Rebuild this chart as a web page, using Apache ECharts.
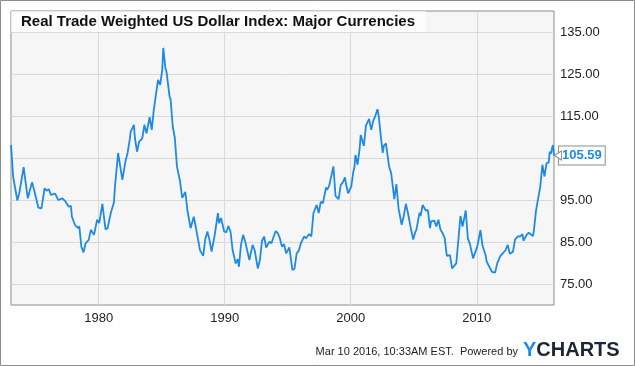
<!DOCTYPE html>
<html>
<head>
<meta charset="utf-8">
<script src="https://cdn.jsdelivr.net/npm/echarts@6/dist/echarts.min.js"></script>
<style>
html,body{margin:0;padding:0;background:#fff;}
#c{width:635px;height:366px;}
</style>
</head>
<body>
<div id="c"></div>
<script>
const titleText = 'Real Trade Weighted US Dollar Index: Major Currencies';
const footerText = 'Mar 10 2016, 10:33AM EST.  Powered by';
const xTickYears = [1980, 1990, 2000, 2010];
const yTickValues = [75, 85, 95, 105, 115, 125, 135];
const dates = [
'1973-01','1973-03','1973-04','1973-07','1973-09','1973-10','1974-01','1974-03','1974-05','1974-09','1974-11',
'1975-03','1975-06','1975-09','1975-11','1976-01','1976-03','1976-07','1976-10','1977-02','1977-05','1977-08',
'1977-10','1977-11','1978-02','1978-05','1978-06','1978-08','1978-10','1978-12','1979-03','1979-05','1979-08',
'1979-11','1980-01','1980-04','1980-07','1980-09','1980-12','1981-03','1981-04','1981-07','1981-09','1981-11',
'1982-02','1982-04','1982-06','1982-07','1982-10','1982-11','1983-01','1983-03','1983-06','1983-08','1983-10',
'1984-01','1984-03','1984-05','1984-07','1984-09','1984-11','1985-01','1985-02','1985-04','1985-05','1985-08',
'1985-09','1985-11','1986-01','1986-03','1986-06','1986-08','1986-11','1987-01','1987-04','1987-07','1987-09',
'1988-01','1988-02','1988-04','1988-06','1988-08','1988-10','1988-12','1989-03','1989-06','1989-07','1989-09',
'1989-12','1990-02','1990-04','1990-06','1990-08','1990-11','1991-01','1991-02','1991-04','1991-06','1991-08',
'1991-12','1992-03','1992-05','1992-08','1992-10','1992-12','1993-02','1993-04','1993-07','1993-09','1994-01',
'1994-03','1994-05','1994-07','1994-09','1994-11','1995-02','1995-05','1995-07','1995-09','1995-11','1996-01',
'1996-04','1996-06','1996-09','1996-11','1997-01','1997-04','1997-06','1997-08','1997-10','1998-01','1998-02',
'1998-04','1998-08','1998-10','1999-01','1999-03','1999-05','1999-07','1999-08','1999-10','2000-01','2000-03',
'2000-04','2000-05','2000-07','2000-09','2000-10','2001-01','2001-03','2001-06','2001-08','2001-10','2001-12',
'2002-02','2002-03','2002-05','2002-07','2002-08','2002-10','2003-01','2003-03','2003-06','2003-08','2003-10',
'2003-11','2004-01','2004-03','2004-05','2004-07','2004-08','2004-10','2004-12','2005-02','2005-03','2005-06',
'2005-07','2005-09','2005-12','2006-02','2006-04','2006-05','2006-08','2006-10','2006-12','2007-02','2007-04',
'2007-06','2007-08','2007-11','2008-01','2008-03','2008-05','2008-07','2008-09','2008-11','2009-02','2009-04',
'2009-06','2009-09','2010-01','2010-02','2010-04','2010-06','2010-09','2010-10','2011-03','2011-06','2011-08',
'2011-11','2012-01','2012-04','2012-06','2012-08','2012-11','2013-01','2013-04','2013-06','2013-08','2013-09',
'2013-12','2014-02','2014-06','2014-07','2014-09','2015-01','2015-03','2015-05','2015-07','2015-09','2015-10',
'2015-11','2016-01','2016-02'
];
const values = [
108.1,100.6,100.2,94.9,96.8,96.5,102.8,99.0,95.4,99.2,97.4,
93.2,93.0,97.8,97.2,97.6,96.2,96.5,95.0,95.4,94.6,93.4,
93.6,91.0,89.0,88.3,88.8,83.9,82.5,84.7,85.5,87.9,86.7,
90.3,89.5,94.1,88.0,88.3,91.9,94.4,98.2,106.2,103.0,99.8,
104.2,106.2,109.3,111.3,112.9,109.7,106.5,108.9,109.7,112.9,110.9,
114.7,111.7,116.5,120.1,123.6,122.4,126.0,131.2,126.4,125.6,119.6,
118.9,112.5,109.7,103.0,99.4,95.5,96.9,92.5,88.3,91.0,88.5,
83.0,82.8,81.7,85.7,87.5,85.5,82.7,86.7,91.9,89.5,90.7,
87.5,87.3,88.8,87.5,83.1,79.9,80.9,79.1,84.3,86.7,85.1,
80.7,84.3,83.1,78.7,80.7,85.3,86.3,83.7,85.1,84.7,87.6,
87.1,85.9,83.9,84.5,82.3,83.7,78.3,78.7,82.3,82.9,84.7,
86.3,85.9,86.9,86.3,91.9,93.8,91.9,94.6,94.2,98.0,97.4,
98.4,103.0,96.0,95.2,98.6,99.2,100.4,98.8,96.6,98.2,101.8,
102.8,105.7,103.4,107.3,110.5,107.9,112.7,114.3,111.7,113.9,115.1,
116.6,115.3,110.5,106.2,107.9,108.5,103.0,101.4,95.2,98.8,93.0,
93.4,89.1,91.2,94.1,91.9,92.0,87.9,85.6,87.4,87.9,92.0,
91.2,93.8,92.5,92.6,88.3,89.9,90.1,88.7,90.3,87.9,87.1,
85.9,81.7,81.9,78.7,79.3,79.9,85.5,91.2,88.7,92.5,85.9,
84.5,81.1,83.9,83.7,87.8,84.1,81.8,80.3,77.9,77.7,79.9,
81.7,82.2,83.1,84.3,82.2,82.7,85.6,86.4,86.3,86.9,85.3,
86.7,87.2,86.4,87.9,92.6,98.2,103.4,100.6,103.8,103.9,106.5,
106.0,108.1,105.59
];

function toYear(s){ const p = s.split('-'); return +p[0] + (+p[1]-1)/12 + 1/24; }
const seriesData = dates.map((d,i)=>[toYear(d), values[i]]);
const last = seriesData[seriesData.length-1];

const chart = echarts.init(document.getElementById('c'), null, {renderer:'canvas'});
const FONT = '"Liberation Sans", Arial, sans-serif';
chart.setOption({
  animation:false,
  backgroundColor:'#fff',
  title:{
    text:titleText, left:11, top:11,
    padding:[3,11,3,10],
    backgroundColor:'rgba(255,255,255,0.65)',
    textStyle:{fontFamily:FONT, fontSize:15, fontWeight:'bold', color:'#111'}
  },
  grid:{left:11, right:81, top:11, bottom:61, show:true, backgroundColor:'#f6f6f6', borderColor:'#8c8c8c', borderWidth:1, containLabel:false},
  xAxis:{
    type:'value', min:1973.04, max:2016.13,
    axisLine:{show:false}, axisTick:{show:false, customValues:xTickYears},
    axisLabel:{customValues:xTickYears, color:'#222', fontFamily:FONT, fontSize:13, margin:7, formatter:v=>String(Math.round(v))},
    splitLine:{show:true, lineStyle:{color:'#d9d9d9', width:1}}
  },
  yAxis:{
    type:'value', position:'right', min:70, max:140, interval:5,
    axisLine:{show:false}, axisTick:{show:false},
    axisLabel:{color:'#222', fontFamily:FONT, fontSize:13, margin:6,
      formatter:v=> yTickValues.indexOf(v) >= 0 ? v.toFixed(2) : ''},
    splitLine:{show:true, lineStyle:{color:['rgba(0,0,0,0)','#d9d9d9'], width:1}}
  },
  series:[{
    type:'line', data:seriesData, symbol:'none', smooth:false,
    lineStyle:{color:'#1d8ae8', width:1.8}, itemStyle:{color:'#1d8ae8'},
    endLabel:{show:true, formatter:p=>p.value[1].toFixed(2), distance:5,
      backgroundColor:'#fff', borderColor:'#8c8c8c', borderWidth:1, padding:[3,3,2,3],
      color:'#1d8ae8', fontFamily:FONT, fontSize:13, fontWeight:'bold'},
    markPoint:{
      silent:true, label:{show:false},
      data:[{coord:last, symbol:'triangle', symbolRotate:90, symbolSize:[9,7], symbolOffset:[4,0],
        itemStyle:{color:'#fff', borderColor:'#8c8c8c', borderWidth:1}}]
    }
  }],
  graphic:[
    {type:'rect', shape:{x:0.5,y:0.5,width:634,height:365}, style:{fill:null, stroke:'#8c8c8c', lineWidth:1}, silent:true},
    {type:'text', right:117, top:346, style:{text:footerText, fill:'#222', font:'11px '+FONT}},
    {type:'text', left:523, top:340, style:{
      text:'{y|Y}{c|CHARTS}',
      rich:{y:{fill:'#1d8ae8', font:'bold 20px '+FONT, fontSize:20, fontWeight:'bold', color:'#1d8ae8'},
            c:{fill:'#1c2533', font:'bold 20px '+FONT, fontSize:20, fontWeight:'bold', color:'#1c2533'}}
    }}
  ]
});
</script>
</body>
</html>
